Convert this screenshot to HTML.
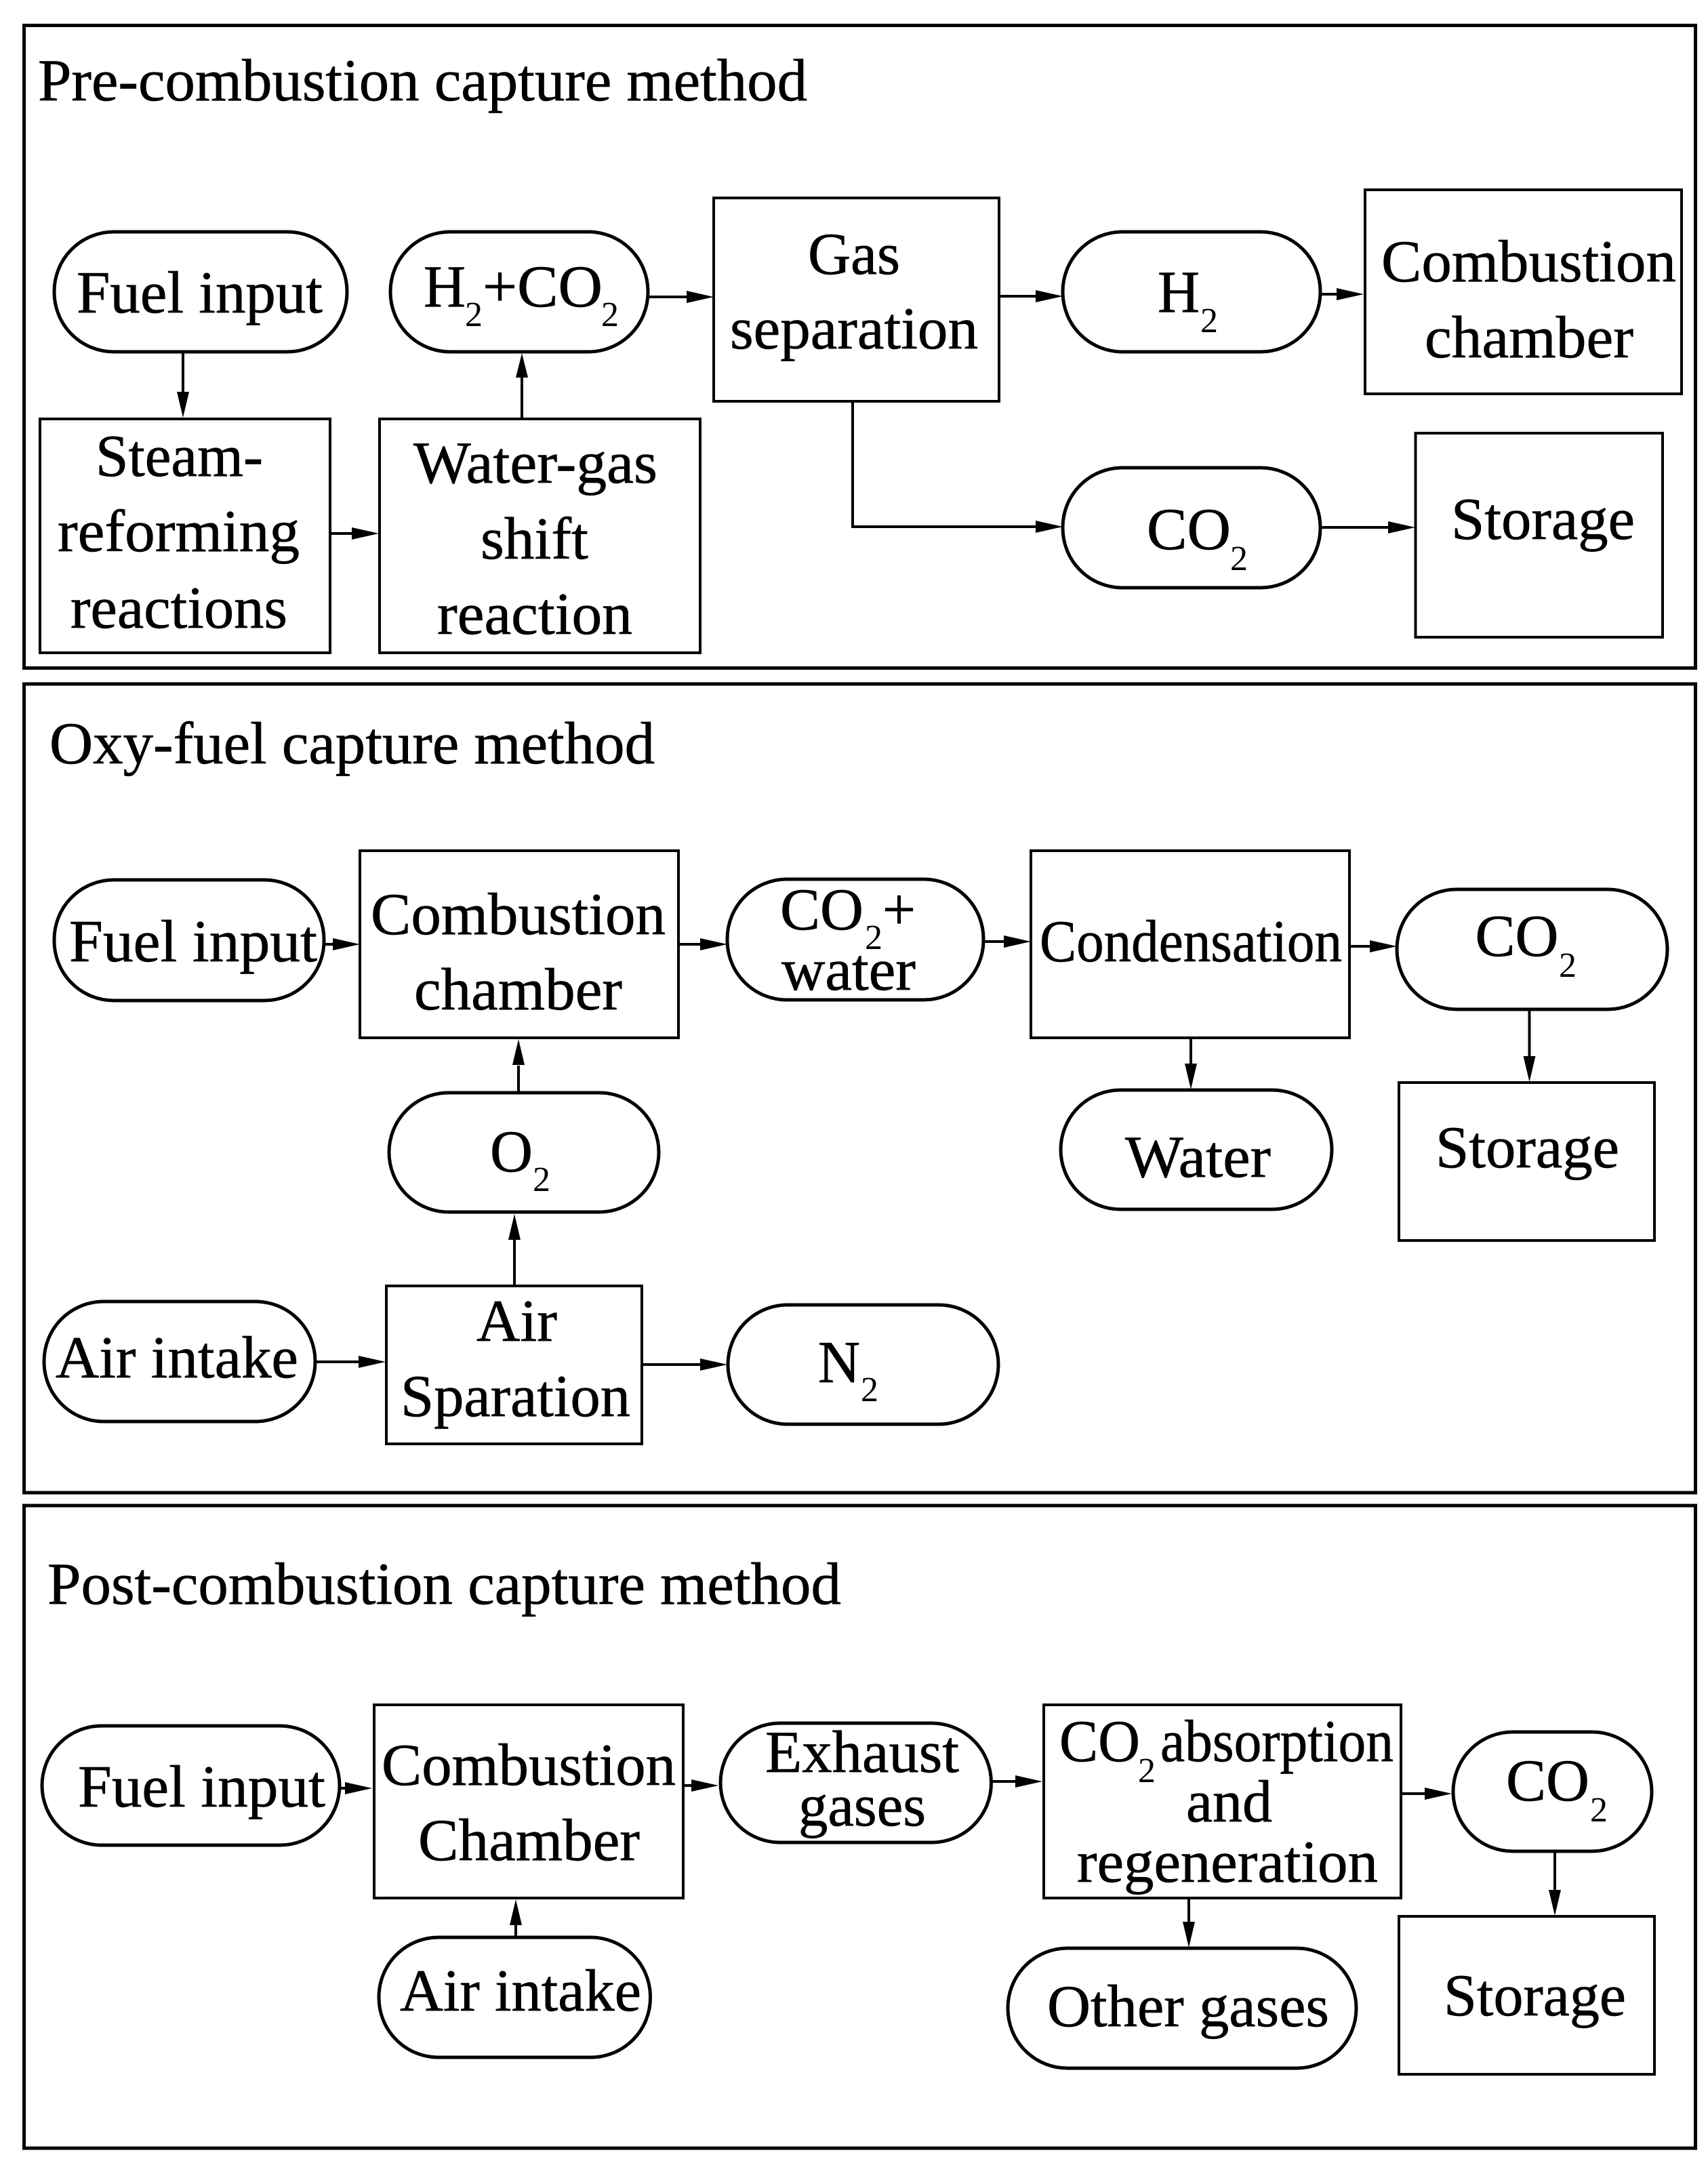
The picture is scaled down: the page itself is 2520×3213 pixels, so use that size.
<!DOCTYPE html>
<html><head><meta charset="utf-8"><title>Carbon capture methods</title>
<style>html,body{margin:0;padding:0;background:#fff}svg{display:block}
text{font-family:"Liberation Serif",serif;font-size:88px;fill:#000;stroke:#000;stroke-width:.7}
.s{font-size:52px;stroke-width:0}
.b{fill:none;stroke:#000;stroke-width:5}
.p{fill:none;stroke:#000;stroke-width:5}
.l{fill:none;stroke:#000;stroke-width:4}
polygon{fill:#000}
</style></head><body>
<svg xmlns="http://www.w3.org/2000/svg" width="2520" height="3213" viewBox="0 0 2520 3213">
<rect width="2520" height="3213" fill="#fff"/>
<!-- Panels -->
<rect class="b" x="35.5" y="37.5" width="2466" height="948"/>
<rect class="b" x="35.5" y="1009" width="2466" height="1193"/>
<rect class="b" x="35.5" y="2221" width="2466" height="948"/>

<!-- Panel 1 -->
<text x="56" y="148" textLength="1135" lengthAdjust="spacingAndGlyphs">Pre-combustion capture method</text>
<rect class="p" x="80" y="342" width="432" height="177" rx="88" ry="88"/>
<text x="113" y="461" textLength="363" lengthAdjust="spacingAndGlyphs">Fuel input</text>
<rect class="l" x="59" y="618" width="428" height="345"/>
<text x="141" y="702" textLength="247" lengthAdjust="spacingAndGlyphs">Steam-</text>
<text x="85" y="813" textLength="357" lengthAdjust="spacingAndGlyphs">reforming</text>
<text x="104" y="926" textLength="320" lengthAdjust="spacingAndGlyphs">reactions</text>
<rect class="l" x="560" y="618" width="473" height="345"/>
<text x="610" y="712" textLength="360" lengthAdjust="spacingAndGlyphs">Water-gas</text>
<text x="709" y="824" textLength="159" lengthAdjust="spacingAndGlyphs">shift</text>
<text x="645" y="935" textLength="288" lengthAdjust="spacingAndGlyphs">reaction</text>
<rect class="p" x="576" y="342" width="380" height="177" rx="88" ry="88"/>
<text x="625" y="452" textLength="62" lengthAdjust="spacingAndGlyphs">H</text>
<text class="s" x="686" y="481">2</text>
<text x="712" y="452" textLength="177" lengthAdjust="spacingAndGlyphs">+CO</text>
<text class="s" x="887" y="481">2</text>
<rect class="l" x="1053" y="292" width="421" height="300"/>
<text x="1192" y="404" textLength="136" lengthAdjust="spacingAndGlyphs">Gas</text>
<text x="1077" y="514" textLength="366" lengthAdjust="spacingAndGlyphs">separation</text>
<rect class="p" x="1568" y="342" width="380" height="177" rx="88" ry="88"/>
<text x="1708" y="460" textLength="62" lengthAdjust="spacingAndGlyphs">H</text>
<text class="s" x="1771" y="490">2</text>
<rect class="l" x="2014" y="280" width="467" height="301"/>
<text x="2038" y="415" textLength="435" lengthAdjust="spacingAndGlyphs">Combustion</text>
<text x="2102" y="527" textLength="308" lengthAdjust="spacingAndGlyphs">chamber</text>
<rect class="p" x="1568" y="690" width="380" height="177" rx="88" ry="88"/>
<text x="1692" y="810" textLength="124" lengthAdjust="spacingAndGlyphs">CO</text>
<text class="s" x="1815" y="841">2</text>
<rect class="l" x="2088.5" y="639" width="364.5" height="301"/>
<text x="2141" y="795" textLength="271" lengthAdjust="spacingAndGlyphs">Storage</text>
<!-- arrows p1 -->
<path class="l" d="M270 519V580M487 787H525M770 618V555M956 438H1015M1474 437H1530M1948 434H1972M1258 592V777H1530M1948 778H2048"/>
<polygon points="270,616 261,578 279,578"/>
<polygon points="559,787 519,778 519,796"/>
<polygon points="770,521 761,557 779,557"/>
<polygon points="1053,438 1013,429 1013,447"/>
<polygon points="1568,437 1528,428 1528,446"/>
<polygon points="2012,434 1972,425 1972,443"/>
<polygon points="1568,777 1528,768 1528,786"/>
<polygon points="2088,778 2048,769 2048,787"/>

<!-- Panel 2 -->
<text x="73" y="1126" textLength="893" lengthAdjust="spacingAndGlyphs">Oxy-fuel capture method</text>
<rect class="p" x="80" y="1298" width="398" height="178" rx="88" ry="88"/>
<text x="102" y="1418" textLength="366" lengthAdjust="spacingAndGlyphs">Fuel input</text>
<rect class="l" x="531" y="1255" width="470" height="276"/>
<text x="547" y="1378" textLength="435" lengthAdjust="spacingAndGlyphs">Combustion</text>
<text x="611" y="1489" textLength="307" lengthAdjust="spacingAndGlyphs">chamber</text>
<rect class="p" x="1073" y="1297" width="378" height="178" rx="88" ry="88"/>
<text x="1151" y="1371" textLength="123" lengthAdjust="spacingAndGlyphs">CO</text>
<text class="s" x="1276" y="1400">2</text>
<text x="1302" y="1371" textLength="49" lengthAdjust="spacingAndGlyphs">+</text>
<text x="1153" y="1460" textLength="198" lengthAdjust="spacingAndGlyphs">water</text>
<rect class="l" x="1521" y="1255" width="470" height="276"/>
<text x="1534" y="1418" textLength="446" lengthAdjust="spacingAndGlyphs">Condensation</text>
<rect class="p" x="2061" y="1312" width="399" height="177" rx="88" ry="88"/>
<text x="2176.5" y="1410" textLength="123" lengthAdjust="spacingAndGlyphs">CO</text>
<text class="s" x="2300" y="1441">2</text>
<rect class="l" x="2064" y="1597" width="377" height="233"/>
<text x="2118" y="1722" textLength="271" lengthAdjust="spacingAndGlyphs">Storage</text>
<rect class="p" x="1565" y="1608" width="400" height="176" rx="88" ry="88"/>
<text x="1660" y="1736" textLength="215" lengthAdjust="spacingAndGlyphs">Water</text>
<rect class="p" x="574" y="1612" width="398" height="176" rx="88" ry="88"/>
<text x="723" y="1728" textLength="63" lengthAdjust="spacingAndGlyphs">O</text>
<text class="s" x="786" y="1757">2</text>
<rect class="l" x="570" y="1897" width="377" height="233"/>
<text x="703" y="1978" textLength="119" lengthAdjust="spacingAndGlyphs">Air</text>
<text x="591" y="2089" textLength="339" lengthAdjust="spacingAndGlyphs">Sparation</text>
<rect class="p" x="65" y="1920" width="400" height="177" rx="88" ry="88"/>
<text x="82" y="2032" textLength="358" lengthAdjust="spacingAndGlyphs">Air intake</text>
<rect class="p" x="1074" y="1925" width="399" height="176" rx="88" ry="88"/>
<text x="1207" y="2039" textLength="62" lengthAdjust="spacingAndGlyphs">N</text>
<text class="s" x="1270" y="2067">2</text>
<!-- arrows p2 -->
<path class="l" d="M478 1393H495M1001 1393H1035M1451 1389H1485M1991 1396H2025M2256.500 1489V1560M1757 1531V1570M765 1612V1572M759 1897V1828M465 2009H530M947 2013H1037"/>
<polygon points="531,1393 491,1384 491,1402"/>
<polygon points="1073,1393 1033,1384 1033,1402"/>
<polygon points="1521,1389 1481,1380 1481,1398"/>
<polygon points="2061,1396 2021,1387 2021,1405"/>
<polygon points="2256.500,1596 2247.500,1558 2265.500,1558"/>
<polygon points="1757,1607 1748,1569 1766,1569"/>
<polygon points="765,1533 756,1571 774,1571"/>
<polygon points="759,1791 750,1829 768,1829"/>
<polygon points="569,2009 529,2000 529,2018"/>
<polygon points="1073,2013 1033,2004 1033,2022"/>

<!-- Panel 3 -->
<text x="70" y="2366" textLength="1171" lengthAdjust="spacingAndGlyphs">Post-combustion capture method</text>
<rect class="p" x="62" y="2546" width="439" height="176" rx="88" ry="88"/>
<text x="115" y="2665" textLength="365" lengthAdjust="spacingAndGlyphs">Fuel input</text>
<rect class="l" x="552" y="2515" width="456" height="285"/>
<text x="563" y="2633" textLength="434" lengthAdjust="spacingAndGlyphs">Combustion</text>
<text x="617" y="2744" textLength="327" lengthAdjust="spacingAndGlyphs">Chamber</text>
<rect class="p" x="1063" y="2542" width="399.500" height="176" rx="88" ry="88"/>
<text x="1129" y="2614" textLength="286" lengthAdjust="spacingAndGlyphs">Exhaust</text>
<text x="1178" y="2693" textLength="188" lengthAdjust="spacingAndGlyphs">gases</text>
<rect class="l" x="1540" y="2515" width="527" height="285"/>
<text x="1563" y="2598" textLength="119" lengthAdjust="spacingAndGlyphs">CO</text>
<text class="s" x="1679" y="2629">2</text>
<text x="1712" y="2598" textLength="344" lengthAdjust="spacingAndGlyphs">absorption</text>
<text x="1750" y="2687" textLength="127" lengthAdjust="spacingAndGlyphs">and</text>
<text x="1589" y="2776" textLength="444" lengthAdjust="spacingAndGlyphs">regeneration</text>
<rect class="p" x="2144" y="2555" width="293" height="176" rx="88" ry="88"/>
<text x="2222" y="2656" textLength="123" lengthAdjust="spacingAndGlyphs">CO</text>
<text class="s" x="2346" y="2687">2</text>
<rect class="l" x="2064" y="2827" width="377" height="233"/>
<text x="2130" y="2973" textLength="269" lengthAdjust="spacingAndGlyphs">Storage</text>
<rect class="p" x="1487" y="2874" width="514" height="177" rx="88" ry="88"/>
<text x="1545" y="2989" textLength="416" lengthAdjust="spacingAndGlyphs">Other gases</text>
<rect class="p" x="559" y="2858" width="400.500" height="177" rx="88" ry="88"/>
<text x="590" y="2966" textLength="356" lengthAdjust="spacingAndGlyphs">Air intake</text>
<!-- arrows p3 -->
<path class="l" d="M501 2638H515M1008 2634H1025M1462 2628H1505M2067 2646H2105M2294 2731V2790M1754 2800V2840M761 2858V2835"/>
<polygon points="549,2638 509,2629 509,2647"/>
<polygon points="1060,2634 1020,2625 1020,2643"/>
<polygon points="1538,2628 1498,2619 1498,2637"/>
<polygon points="2142,2646 2102,2637 2102,2655"/>
<polygon points="2294,2826 2285,2788 2303,2788"/>
<polygon points="1754,2873 1745,2835 1763,2835"/>
<polygon points="761,2802 752,2840 770,2840"/>
</svg>
</body></html>
